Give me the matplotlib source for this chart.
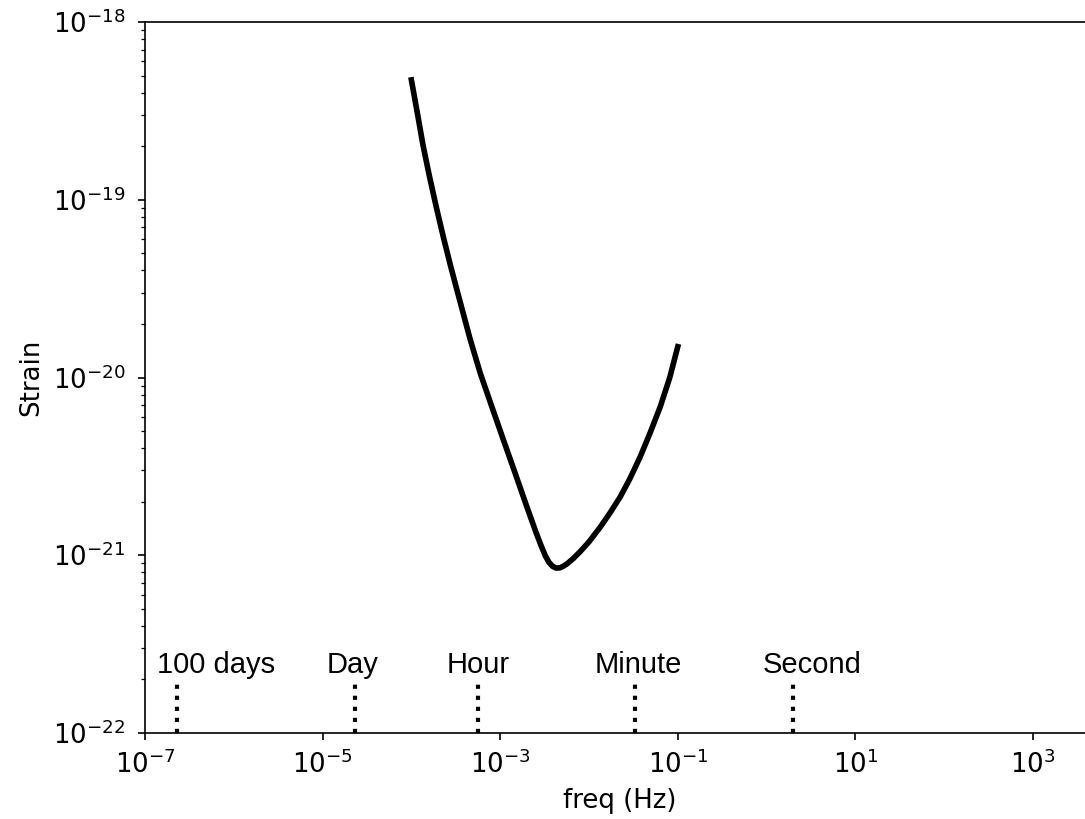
import matplotlib
matplotlib.use("Agg")
import matplotlib.pyplot as plt
import matplotlib.ticker as mticker
import numpy as np

params = {
    "font.family": "DejaVu Sans",
    "mathtext.fontset": "dejavusans",
    "font.size": 12.5,
    "xtick.major.pad": 5,
    "ytick.major.pad": 6,
    "savefig.dpi": 150,
}
plt.rcParams.update(params)

freq = [1.0e-4, 1.175e-4, 1.349e-4, 1.585e-4, 1.905e-4, 2.291e-4, 2.754e-4,
        3.311e-4, 3.981e-4, 4.592e-4, 5.957e-4, 8.054e-4, 1.089e-3,
        1.476e-3, 2.0e-3, 2.512e-3, 2.884e-3, 3.236e-3, 3.548e-3, 3.890e-3,
        4.266e-3, 4.677e-3, 5.129e-3, 5.623e-3, 6.607e-3, 7.943e-3, 1.0e-2,
        1.340e-2, 1.738e-2, 2.249e-2, 2.884e-2, 3.776e-2, 4.898e-2,
        6.353e-2, 8.128e-2, 1.0e-1]
strain = [4.72e-19, 3.02e-19, 2.04e-19, 1.38e-19, 9.12e-20, 6.17e-20,
          4.27e-20, 3.02e-20, 2.14e-20, 1.64e-20, 1.06e-20, 6.85e-21,
          4.45e-21, 2.89e-21, 1.87e-21, 1.36e-21, 1.135e-21, 9.89e-22,
          9.12e-22, 8.67e-22, 8.47e-22, 8.49e-22, 8.67e-22, 8.93e-22,
          9.55e-22, 1.047e-21, 1.19e-21, 1.44e-21, 1.74e-21, 2.13e-21,
          2.69e-21, 3.58e-21, 4.90e-21, 6.85e-21, 1.0e-20, 1.49e-20]

# reference periods (seconds); GW frequency is twice the orbital one
period_names = ["100 days", "Day", "Hour", "Minute", "Second"]
period_sec = [100 * 86400, 86400, 3600, 60, 1]
period_freq = [2.0 / p for p in period_sec]

fig = plt.figure(figsize=(1085 / 150, 819 / 150), dpi=150)
ax = fig.add_axes([145 / 1085, 86 / 819, 950 / 1085, 711 / 819])

ax.loglog(freq, strain, color="k", lw=2.7)

label_shift = [18.5, -1.2, 0.5, 1.2, 9.0]
for f, name, dx in zip(period_freq, period_names, label_shift):
    ax.plot([f, f], [1e-22, 2e-22], color="k", ls=":", lw=2)
    ax.annotate(name, xy=(f, 2e-22), xytext=(dx, 0),
                textcoords="offset points", ha="center", va="bottom",
                fontsize=14, family="Liberation Sans")

ax.set_xlim(1e-7, 5e3)
ax.set_ylim(1e-22, 1e-18)
ax.xaxis.set_major_locator(mticker.FixedLocator([1e-7, 1e-5, 1e-3, 1e-1, 1e1, 1e3]))
ax.xaxis.set_minor_locator(mticker.NullLocator())
ax.yaxis.set_major_locator(mticker.LogLocator(base=10, numticks=10))
ax.yaxis.set_minor_locator(mticker.LogLocator(base=10, subs=np.arange(2, 10), numticks=10))
ax.set_xlabel("freq (Hz)")
ax.set_ylabel("Strain")

fig.savefig("out.png", dpi=150)
